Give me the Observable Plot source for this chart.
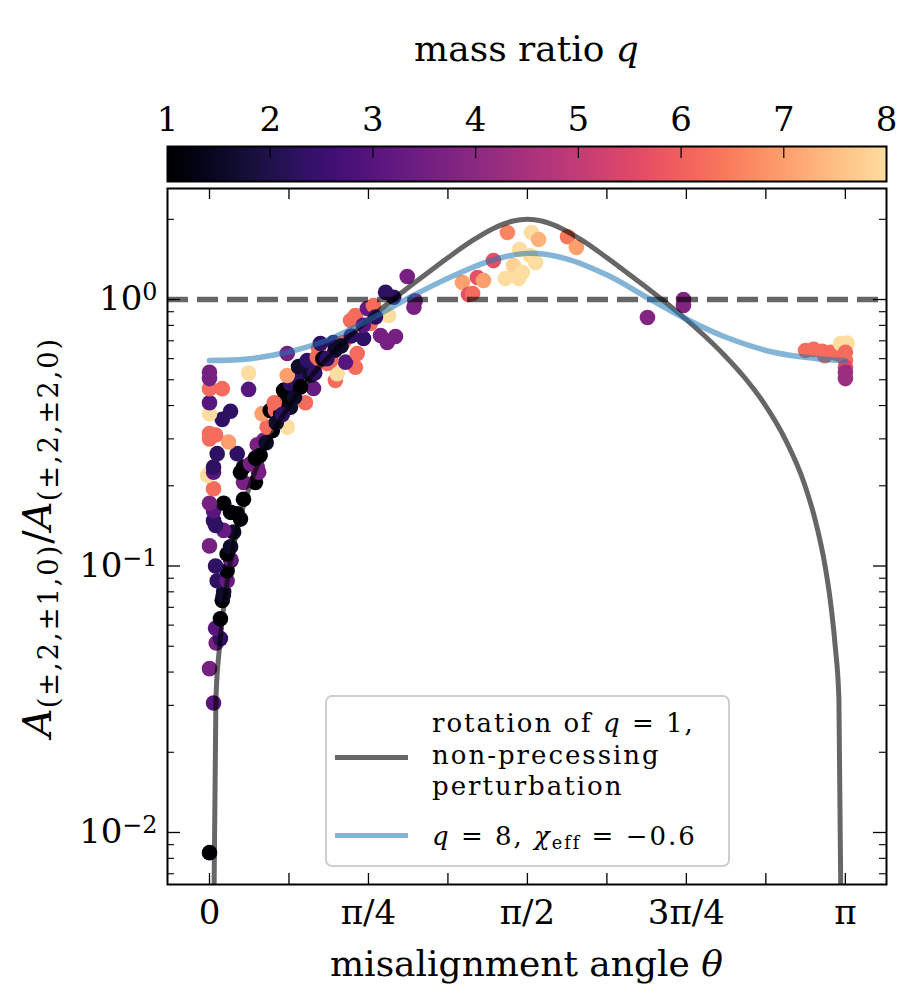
<!DOCTYPE html>
<html>
<head>
<meta charset="utf-8">
<script src="https://cdn.jsdelivr.net/npm/d3@7"></script>
<script src="https://cdn.jsdelivr.net/npm/@observablehq/plot@0.6"></script>
<style>
  html, body { margin: 0; padding: 0; background: white; }
  #chart { position: relative; width: 922px; height: 1008px; font-family: "DejaVu Serif", serif; color: black; overflow: hidden; }
  #chart svg { display: block; }
  .abs { position: absolute; white-space: nowrap; }
  .lbl { font-size: 36px; line-height: 36px; text-align: center; }
  .leg { font-size: 26px; line-height: 26px; letter-spacing: 2px; }
  .sub { font-size: 0.68em; vertical-align: -0.25em; }
</style>
</head>
<body>
<div id="chart"></div>
<script>
// scatter: misalignment angle (rad), amplitude ratio, mass ratio q
const pointTheta = [
  0, 0.02, 0, 0.033, 0.054, 0.03, 0.054, 0.063, 0.068, 0.07,
  0.038, 0.087, 0.087, 0.03, 0.106, 0.104, 0.087, 0.104, 0, 0.119,
  0.07, 0.03, 0.02, 0.153, 0.137, 0.104, 0.02, 0.07, 0, 0.168,
  0.02, 0.227, 0.168, -0.01, 0.02, 0.153, 0.243, 0.168, 0.02, 0.236,
  0.2025, 0.227, 0.038, 0.137, 0.236, 0.094, 0.267, 0, 0.03, 0.31,
  0, 0.285, 0.384, 0.063, 0, 0.26, 0.104, 0.30, 0.326, 0.352,
  0.40, 0.334, 0.32, 0, 0.474, 0.40, 0.366, 0.384, 0.193, 0,
  0.063, 0.514, 0.40, 0.622, 0, 0.433, 0.384, 0.631, 0.193, 0,
  0.514, 0.464, 0.44, 0.721, 0.581, 0.672, 0.483, 0.532, 0.384, 0.73,
  0.539, 0.548, 0.613, 0.662, 0.878, 0.761, 0.919, 0.845, 0.697, 0.795,
  0.721, 0.885, 0.78, 0.81, 1.01, 0.91, 0.87, 0.977, 1.016, 0.6,
  0.5, 0.56, 0.62, 1.472, 1.591, 1.626, 1.769, 1.813, 1.532, 1.403,
  1.586, 1.611, 1.502, 1.462, 1.527, 1.546, 1.25, 1.324, 1.354, 1.28,
  1.30, 2.342, 2.342, 2.164, 2.945, 2.985, 3.027, 3.068, 3.101, 3.118,
  3.15, 3.142, 3.142, 3.142, 3.142, 3.142, 3.04, 0.25, 0.28, 0.33,
  0.36, 0.42, 0.45, 0.52, 0.58, 0.65, 0.70, 0.76, 0.82
];
const pointRatio = [
  0.0084, 0.0306, 0.0412, 0.0514, 0.0534, 0.0584, 0.0634, 0.0743, 0.0776, 0.08,
  0.088, 0.088, 0.096, 0.1, 0.105, 0.106, 0.111, 0.118, 0.119, 0.134,
  0.136, 0.142, 0.148, 0.15, 0.157, 0.159, 0.161, 0.172, 0.172, 0.178,
  0.195, 0.206, 0.206, 0.219, 0.225, 0.225, 0.225, 0.235, 0.235, 0.235,
  0.242, 0.254, 0.264, 0.264, 0.285, 0.292, 0.296, 0.30, 0.31, 0.322,
  0.314, 0.332, 0.332, 0.355, 0.373, 0.373, 0.381, 0.383, 0.383, 0.37,
  0.394, 0.407, 0.41, 0.41, 0.41, 0.43, 0.456, 0.456, 0.46, 0.463,
  0.463, 0.464, 0.484, 0.497, 0.505, 0.511, 0.519, 0.527, 0.53, 0.533,
  0.542, 0.557, 0.56, 0.557, 0.575, 0.582, 0.59, 0.608, 0.627, 0.627,
  0.655, 0.684, 0.69, 0.69, 0.69, 0.714, 0.727, 0.733, 0.834, 0.813,
  0.871, 0.871, 0.925, 0.95, 0.936, 1.02, 1.065, 1.22, 0.99, 0.59,
  0.52, 0.6, 0.645, 1.784, 1.784, 1.68, 1.72, 1.567, 1.54, 1.40,
  1.46, 1.377, 1.34, 1.199, 1.199, 1.263, 1.158, 1.209, 1.178, 1.044,
  1.053, 1.0, 0.95, 0.856, 0.644, 0.65, 0.64, 0.634, 0.627, 0.684,
  0.686, 0.634, 0.59, 0.557, 0.533, 0.505, 0.615, 0.26, 0.29, 0.345,
  0.37, 0.43, 0.47, 0.53, 0.6, 0.67, 0.73, 0.8, 0.86
];
const pointQ = [
  1, 3, 3.6, 3.6, 2.3, 3, 1, 1, 1.6, 1.6,
  2.3, 3.3, 1, 2.3, 1.6, 3.3, 1, 1.6, 3.6, 1.6,
  3.3, 2.3, 2.3, 1, 1, 1, 3, 1, 3.6, 1,
  6.2, 1, 3.6, 8, 3, 1, 3.6, 1, 2.3, 3.6,
  3.6, 1, 2.3, 2.3, 3.6, 7, 3.6, 6.2, 6.2, 1,
  6.2, 6.2, 8, 2.3, 8, 7, 2.3, 1, 6.2, 1,
  1.6, 1, 6.2, 3, 6.2, 1, 1, 1, 3, 6.2,
  6.2, 3.3, 2.3, 6.2, 3.6, 2.3, 7, 8, 8, 3.6,
  6.2, 2.3, 1.6, 6.2, 6.2, 3, 2.3, 6.2, 3.6, 6.2,
  6.2, 2.3, 2.3, 6.2, 3.6, 2.3, 3.6, 3.6, 6.2, 6.2,
  6.2, 8, 3.3, 6.2, 3.6, 2.3, 2.3, 3.6, 3.6, 6.2,
  1.6, 1, 1.6, 6.6, 8, 7.3, 6.4, 7, 8, 5.7,
  8, 8, 7.8, 8, 8, 8, 7, 5.7, 7, 5.7,
  6.2, 3.8, 3.8, 3.8, 6.2, 6.2, 6.2, 6.2, 6.2, 8,
  8, 6.2, 6.2, 5.5, 4.3, 4.3, 6.2, 1, 1.6, 1.6,
  2.3, 1.6, 1, 2.3, 2.3, 1.6, 2.3, 3, 2.3
];

// rotation of q = 1 non-precessing perturbation
const rotTheta = [0, 0.0317, 0.05, 0.075, 0.1, 0.15, 0.2, 0.3, 0.4, 0.5, 0.6, 0.7, 0.8, 0.9, 1.0,
  1.1, 1.2, 1.3, 1.4, 1.5, 1.5708, 1.6416, 1.7416, 1.8416, 1.9416, 2.0416, 2.1416, 2.2416,
  2.3416, 2.4416, 2.5416, 2.6416, 2.7416, 2.8416, 2.9416, 2.9916, 3.0416, 3.0666, 3.0916, 3.1099, 3.1416];
const rotRatio = [0.0001, 0.0317, 0.05, 0.075, 0.1, 0.15, 0.201, 0.302, 0.406, 0.512, 0.621, 0.736, 0.859, 0.991, 1.136,
  1.297, 1.476, 1.666, 1.845, 1.971, 2.0, 1.971, 1.845, 1.666, 1.476, 1.297, 1.136, 0.991,
  0.859, 0.736, 0.621, 0.512, 0.406, 0.302, 0.201, 0.15, 0.1, 0.075, 0.05, 0.0317, 0.0001];

// q = 8, chi_eff = -0.6 (blue curve)
const blueTheta = [0, 0.2, 0.385, 0.573, 0.78, 0.97, 1.156, 1.39, 1.5708, 1.76, 1.97, 2.16, 2.37, 2.555, 2.787, 3.0, 3.1416];
const blueRatio = [0.59, 0.60, 0.634, 0.70, 0.834, 1.0, 1.18, 1.40, 1.49, 1.425, 1.23, 1.02, 0.834, 0.72, 0.634, 0.60, 0.59];

const xTicks = [0, Math.PI / 8, Math.PI / 4, 3 * Math.PI / 8, Math.PI / 2, 5 * Math.PI / 8, 3 * Math.PI / 4, 7 * Math.PI / 8, Math.PI];
const xLabelTicks = [0, Math.PI / 4, Math.PI / 2, 3 * Math.PI / 4, Math.PI];
const xTickLabels = ["0", "π/4", "π/2", "3π/4", "π"];
const yMajor = [0.01, 0.1, 1];
const yMinor = [0.007, 0.008, 0.009, 0.02, 0.03, 0.04, 0.05, 0.06, 0.07, 0.08, 0.09,
  0.2, 0.3, 0.4, 0.5, 0.6, 0.7, 0.8, 0.9, 2];
const qTicks = [1, 2, 3, 4, 5, 6, 7, 8];

const points = pointTheta.map((t, i) => ({theta: t, ratio: pointRatio[i], q: pointQ[i]}));
const rot = rotTheta.map((t, i) => ({theta: t, ratio: rotRatio[i]}));
const blue = blueTheta.map((t, i) => ({theta: t, ratio: blueRatio[i]}));

const color = {type: "linear", domain: [1, 8], interpolate: (t) => d3.interpolateMagma(0.93 * t)};
const font = "'DejaVu Serif', serif";
const innerH = 696, innerW = 719;

const bar = Plot.plot({
  width: 922, height: 184,
  marginTop: 146, marginBottom: 3, marginLeft: 167, marginRight: 36,
  style: {fontFamily: font, background: "transparent"},
  x: {domain: [1, 8]},
  y: {domain: [0, 1], axis: null},
  color,
  marks: [
    Plot.raster({x1: 1, x2: 8, y1: 0, y2: 1, width: 719, height: 1, fill: (x, y) => x, imageRendering: "auto"}),
    Plot.ruleX(qTicks.slice(1, -1), {x: (d) => d, insetBottom: 23, stroke: "black", strokeWidth: 1.2}),
    Plot.frame({stroke: "black", strokeWidth: 2}),
    Plot.axisX({anchor: "top", ticks: qTicks, tickSize: 0, tickPadding: 16, fontSize: 34, label: null, tickFormat: (d) => String(d)})
  ]
});

const main = Plot.plot({
  width: 922, height: 824,
  marginTop: 4, marginBottom: 124, marginLeft: 167, marginRight: 36,
  style: {fontFamily: font, background: "transparent"},
  x: {domain: [-0.2075, 3.345]},
  y: {type: "log", domain: [0.00638, 2.61]},
  color,
  marks: [
    Plot.dot(points, {x: "theta", y: "ratio", fill: "q", r: 7.8}),
    Plot.ruleY([1], {stroke: "black", strokeOpacity: 0.6, strokeWidth: 5.5, strokeDasharray: "21,9"}),
    Plot.line(rot, {x: "theta", y: "ratio", stroke: "black", strokeOpacity: 0.6, strokeWidth: 5, curve: "monotone-x", clip: true}),
    Plot.line(blue, {x: "theta", y: "ratio", stroke: "#1f77b4", strokeOpacity: 0.55, strokeWidth: 5.5, curve: "catmull-rom"}),
    // inward ticks on all four sides
    Plot.ruleX(xTicks, {x: (d) => d, insetTop: innerH - 11, stroke: "black", strokeWidth: 1.3}),
    Plot.ruleX(xTicks, {x: (d) => d, insetBottom: innerH - 11, stroke: "black", strokeWidth: 1.3}),
    Plot.ruleY(yMajor, {y: (d) => d, insetRight: innerW - 13, stroke: "black", strokeWidth: 1.3}),
    Plot.ruleY(yMajor, {y: (d) => d, insetLeft: innerW - 13, stroke: "black", strokeWidth: 1.3}),
    Plot.ruleY(yMinor, {y: (d) => d, insetRight: innerW - 7, stroke: "black", strokeWidth: 1.1}),
    Plot.ruleY(yMinor, {y: (d) => d, insetLeft: innerW - 7, stroke: "black", strokeWidth: 1.1}),
    Plot.frame({stroke: "black", strokeWidth: 2}),
    Plot.axisX({ticks: xLabelTicks, tickSize: 0, tickPadding: 15, fontSize: 34, label: null,
      tickFormat: (d) => xTickLabels[xLabelTicks.findIndex((v) => Math.abs(v - d) < 1e-6)]}),
    Plot.axisY({ticks: yMajor, tickSize: 0, tickPadding: 10, fontSize: 34, label: null,
      tickFormat: (d) => "10^" + String(Math.round(Math.log10(d))).replace("-", "\u2212")})
  ]
});

// superscript exponents on the log axis
d3.select(main).selectAll("text").each(function () {
  const s = this.textContent;
  if (s.startsWith("10^")) {
    const t = d3.select(this);
    t.text("10");
    t.append("tspan").attr("dy", "-0.45em").attr("font-size", "0.7em").text(s.slice(3));
  }
});

const chart = document.getElementById("chart");
chart.appendChild(bar);
chart.appendChild(main);
chart.insertAdjacentHTML("beforeend", `
  <div class="abs lbl" style="left:167px;width:719px;top:31px;">mass ratio <i>q</i></div>
  <div class="abs lbl" style="left:167px;width:719px;top:946px;">misalignment angle <i>θ</i></div>
  <div class="abs" style="left:43px;top:537px;transform:translate(-50%,-50%) rotate(-90deg);font-size:40px;line-height:40px;">
    <i>A</i><span class="sub" style="letter-spacing:2px;">(±,2,±1,0)</span>/<i>A</i><span class="sub" style="letter-spacing:2px;">(±,2,±2,0)</span>
  </div>
  <div class="abs" style="left:325px;top:695px;width:405px;height:172px;box-sizing:border-box;border:2px solid #cfcfcf;border-radius:7px;background:rgba(255,255,255,0.8);"></div>
  <div class="abs" style="left:335px;top:754.5px;width:73px;height:5px;background:rgba(0,0,0,0.6);"></div>
  <div class="abs" style="left:335px;top:832.5px;width:73px;height:5.5px;background:rgba(31,119,180,0.55);"></div>
  <div class="abs leg" style="left:432px;top:710px;">rotation of <i>q</i> = 1,</div>
  <div class="abs leg" style="left:432px;top:742px;">non-precessing</div>
  <div class="abs leg" style="left:432px;top:773px;">perturbation</div>
  <div class="abs leg" style="left:432px;top:823px;"><i>q</i> = 8, <i>χ</i><span class="sub">eff</span> = −0.6</div>
`);
</script>
</body>
</html>
